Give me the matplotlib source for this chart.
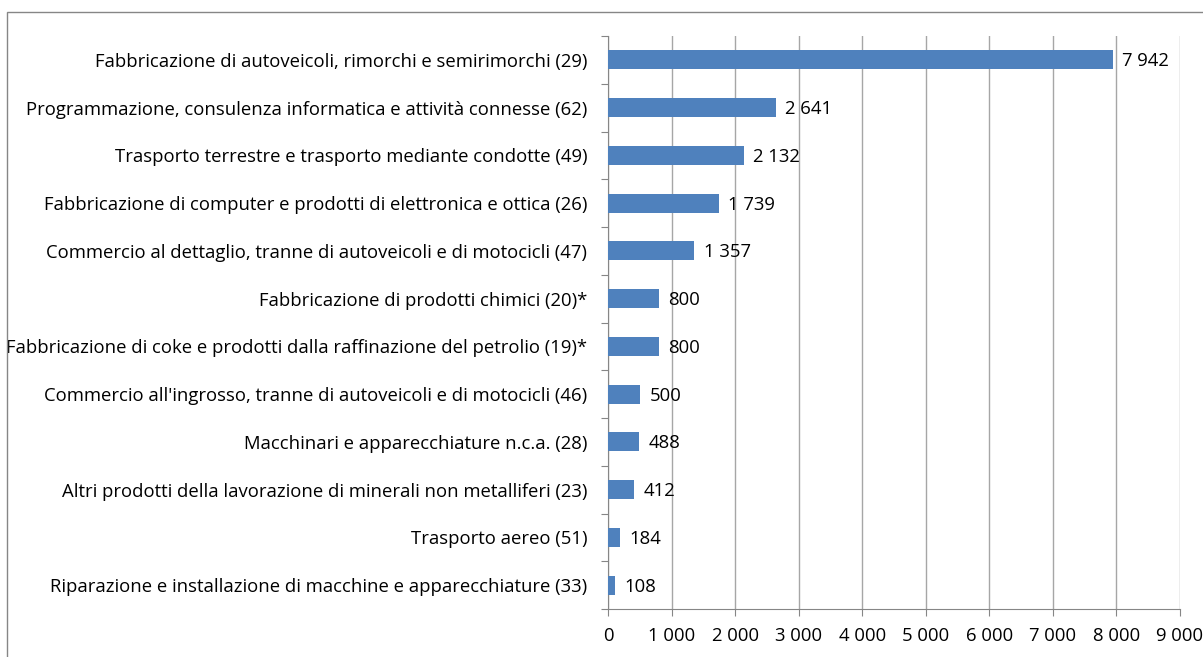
import matplotlib.pyplot as plt
from matplotlib.patches import Rectangle

categories = [
    "Fabbricazione di autoveicoli, rimorchi e semirimorchi (29)",
    "Programmazione, consulenza informatica e attività connesse (62)",
    "Trasporto terrestre e trasporto mediante condotte (49)",
    "Fabbricazione di computer e prodotti di elettronica e ottica (26)",
    "Commercio al dettaglio, tranne di autoveicoli e di motocicli (47)",
    "Fabbricazione di prodotti chimici (20)*",
    "Fabbricazione di coke e prodotti dalla raffinazione del petrolio (19)*",
    "Commercio all'ingrosso, tranne di autoveicoli e di motocicli (46)",
    "Macchinari e apparecchiature n.c.a. (28)",
    "Altri prodotti della lavorazione di minerali non metalliferi (23)",
    "Trasporto aereo (51)",
    "Riparazione e installazione di macchine e apparecchiature (33)",
]
values = [7942, 2641, 2132, 1739, 1357, 800, 800, 500, 488, 412, 184, 108]
x_ticks = [0, 1000, 2000, 3000, 4000, 5000, 6000, 7000, 8000, 9000]


def fmt(v):
    return f"{v:,}".replace(",", " ")


plt.rcParams["font.family"] = ["Open Sans", "DejaVu Sans"]
FS = 13.3

W, H = 1203, 657
fig = plt.figure(figsize=(W / 100, H / 100), dpi=100)
ax = fig.add_axes([608 / W, 1 - 609 / H, (1180 - 608) / W, (609 - 36) / H])

n = len(categories)
pos = list(range(n))
ax.barh(pos, values, height=0.4, color="#4F81BD", zorder=3)
for p, v in zip(pos, values):
    ax.text(v + 150, p + 0.03, fmt(v), va="center", ha="left", fontsize=FS,
            color="black", zorder=4)

ax.set_ylim(n - 0.5, -0.5)
ax.set_xlim(0, 9000)
ax.set_xticks(x_ticks)
ax.set_xticklabels([fmt(t) for t in x_ticks], fontsize=FS)
ax.set_yticks([i - 0.5 for i in range(n + 1)])
ax.set_yticklabels([])
ax.set_yticks(pos, minor=True)
ax.set_yticklabels(categories, minor=True, fontsize=FS)
ax.tick_params(axis="y", which="minor", length=0, pad=15)
ax.tick_params(axis="y", which="major", length=5, color="#868686")
ax.tick_params(axis="x", length=5, color="#868686", pad=8)

ax.grid(axis="x", color="#A6A6A6", linewidth=1, zorder=0)
for s in ["top", "right"]:
    ax.spines[s].set_visible(False)
for s in ["left", "bottom"]:
    ax.spines[s].set_color("#868686")

fig.patches.append(Rectangle((7 / W, -0.1), 1.2, 1 - 12 / H + 0.1,
                             transform=fig.transFigure, fill=False,
                             edgecolor="#868686", linewidth=1))

fig.savefig("out.png", dpi=100)
